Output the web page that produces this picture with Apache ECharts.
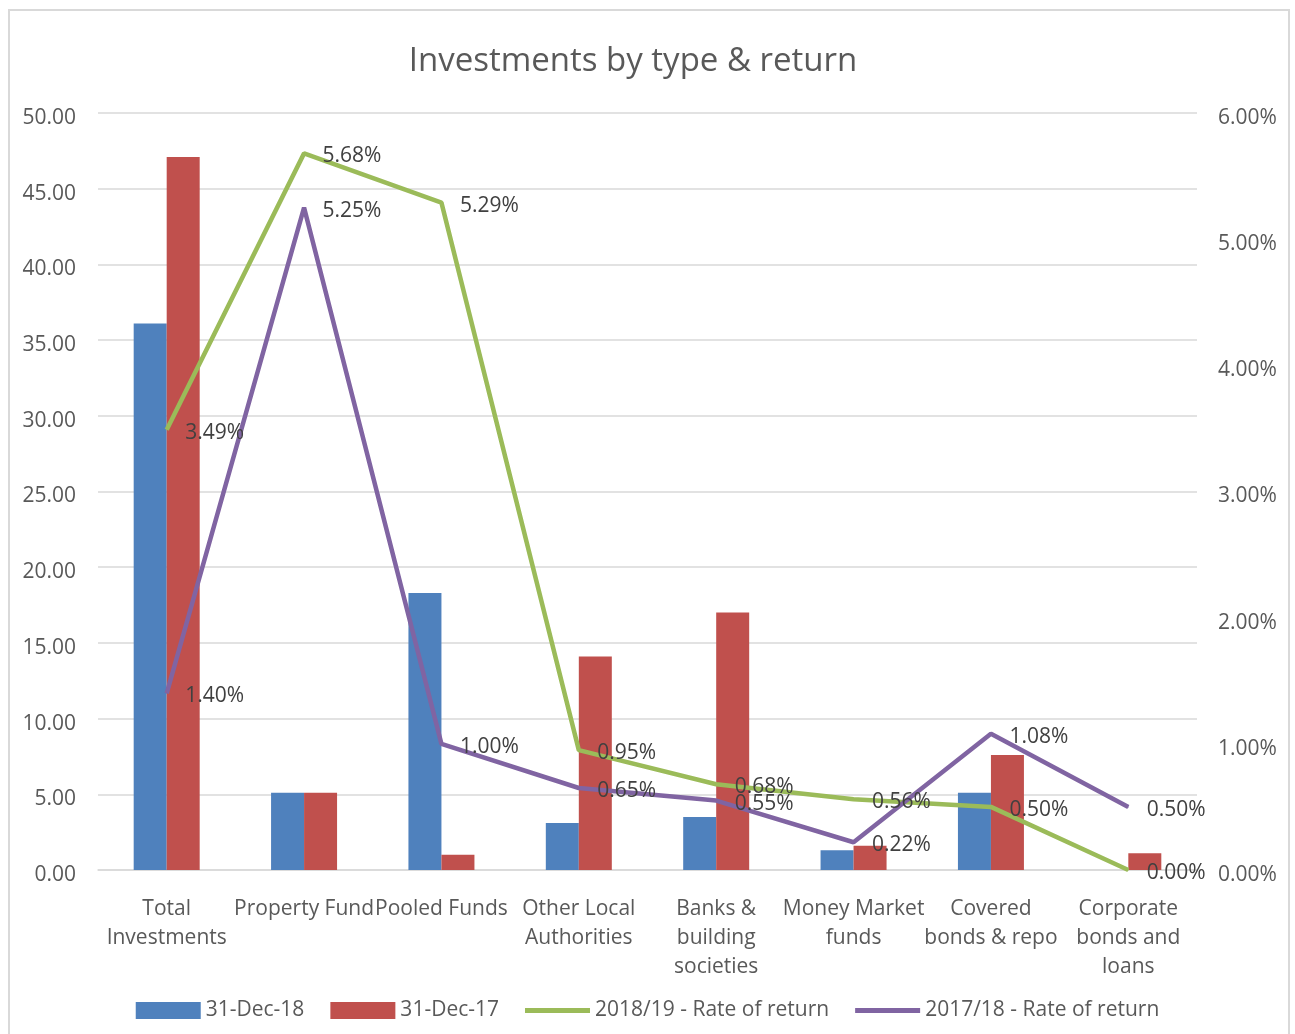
<!DOCTYPE html>
<html>
<head>
<meta charset="utf-8">
<script src="https://cdn.jsdelivr.net/npm/echarts@6/dist/echarts.min.js"></script>
<style>
  html, body { margin: 0; padding: 0; background: #fff; }
  #chart { width: 1295px; height: 1034px; }
</style>
</head>
<body>
<div id="chart"></div>
<script>
// categories (line breaks as in the original)
var categories = ['Total\nInvestments', 'Property Fund', 'Pooled Funds', 'Other Local\nAuthorities',
  'Banks &\nbuilding\nsocieties', 'Money Market\nfunds', 'Covered\nbonds & repo', 'Corporate\nbonds and\nloans'];
// balances (£m)
var dec18 = [36.1, 5.1, 18.3, 3.1, 3.5, 1.3, 5.1, null];
var dec17 = [47.1, 5.1, 1.0, 14.1, 17.0, 1.6, 7.6, 1.1];
// rates of return (%)
var rate1819 = [3.49, 5.68, 5.29, 0.95, 0.68, 0.56, 0.50, 0.00];
var rate1718 = [1.40, 5.25, 1.00, 0.65, 0.55, 0.22, 1.08, 0.50];

var font = "'Open Sans', sans-serif";
var grey = '#595959';
var lineIcon = 'path://M0,0 L65,0 L65,5 L0,5 Z';
// nudges tick labels a little below their grid line, as Excel does
var tickRich = { t: { padding: [10, 0, 0, 0], color: grey, fontFamily: font, fontSize: 21 } };

var chart = echarts.init(document.getElementById('chart'));

function lineSeries(name, data, color) {
  return {
    name: name,
    type: 'line',
    yAxisIndex: 1,
    data: data,
    symbol: 'circle',
    symbolSize: 1,
    symbolKeepAspect: true,
    lineStyle: { color: color, width: 4.5 },
    itemStyle: { color: color },
    label: {
      show: true,
      position: 'right',
      distance: 18,
      offset: [0, 3],
      color: '#404040',
      fontFamily: font,
      fontSize: 21,
      formatter: function (p) { return p.value.toFixed(2) + '%'; }
    },
    emphasis: { disabled: true }
  };
}

chart.setOption({
  animation: false,
  title: {
    text: 'Investments by type & return',
    left: 628,
    textAlign: 'center',
    top: 40,
    textStyle: { fontFamily: font, fontSize: 33, fontWeight: 'normal', color: grey }
  },
  graphic: [{
    type: 'rect',
    shape: { x: 9, y: 10, width: 1280, height: 1040 },
    style: { fill: 'none', stroke: '#D9D9D9', lineWidth: 2 },
    silent: true
  }],
  grid: { left: 98, right: 98, top: 113, bottom: 164 },
  legend: {
    bottom: 8,
    left: 'center',
    itemWidth: 65,
    itemHeight: 17,
    itemGap: 26,
    textStyle: { fontFamily: font, fontSize: 21, color: grey },
    data: [
      { name: '31-Dec-18', icon: 'rect' },
      { name: '31-Dec-17', icon: 'rect' },
      { name: '2018/19 - Rate of return', icon: lineIcon },
      { name: '2017/18 - Rate of return', icon: lineIcon }
    ]
  },
  xAxis: {
    type: 'category',
    data: categories,
    axisTick: { show: false },
    axisLine: { lineStyle: { color: '#D9D9D9', width: 1.5 } },
    axisLabel: {
      interval: 0,
      margin: 25,
      color: grey,
      fontFamily: font,
      fontSize: 21,
      lineHeight: 29
    }
  },
  yAxis: [{
    type: 'value',
    min: 0,
    max: 50,
    interval: 5,
    axisLine: { show: false },
    axisTick: { show: false },
    axisLabel: {
      margin: 22,
      rich: tickRich,
      formatter: function (v) { return '{t|' + v.toFixed(2) + '}'; }
    },
    splitLine: { lineStyle: { color: '#D9D9D9', width: 1.5 } }
  }, {
    type: 'value',
    min: 0,
    max: 6,
    interval: 1,
    axisLine: { show: false },
    axisTick: { show: false },
    splitLine: { show: false },
    axisLabel: {
      margin: 21,
      rich: tickRich,
      formatter: function (v) { return '{t|' + v.toFixed(2) + '%}'; }
    }
  }],
  series: [
    { name: '31-Dec-18', type: 'bar', data: dec18, barWidth: 33, barGap: '0%',
      itemStyle: { color: '#4F81BD' }, emphasis: { disabled: true } },
    { name: '31-Dec-17', type: 'bar', data: dec17, barWidth: 33, barGap: '0%',
      itemStyle: { color: '#C0504D' }, emphasis: { disabled: true } },
    lineSeries('2018/19 - Rate of return', rate1819, '#9BBB59'),
    lineSeries('2017/18 - Rate of return', rate1718, '#8064A2')
  ]
});

window.addEventListener('resize', function () { chart.resize(); });
</script>
</body>
</html>
